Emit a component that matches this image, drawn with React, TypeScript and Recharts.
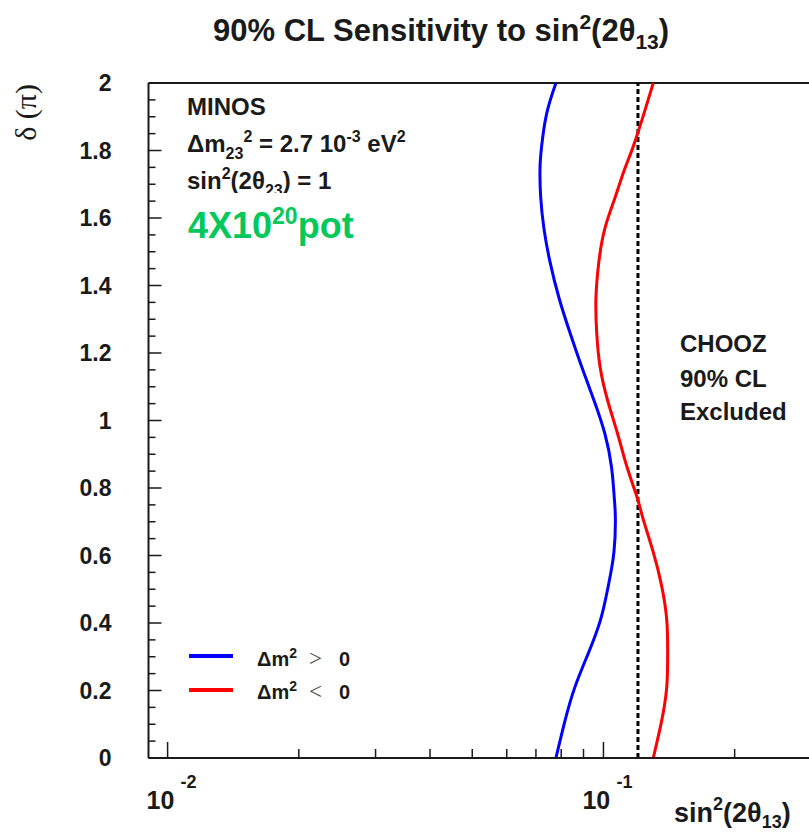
import React from "react"
import { LineChart, Line, XAxis, YAxis, ReferenceLine, Legend } from "recharts"

// delta (units of pi) top to bottom
const DELTA = [2, 1.91, 1.81, 1.74, 1.66, 1.57, 1.47, 1.36, 1.26, 1.16, 1.06, 0.96, 0.86, 0.77, 0.71, 0.61, 0.51, 0.41, 0.31, 0.21, 0.11, 0]
// sin^2(2theta13) sensitivity, dm^2 > 0
const NORMAL = [0.0778, 0.0741, 0.0721, 0.0715, 0.0718, 0.073, 0.0754, 0.0792, 0.0838, 0.0891, 0.0951, 0.1008, 0.1044, 0.1059, 0.1065, 0.1057, 0.1026, 0.0985, 0.0923, 0.086, 0.0816, 0.0778]
// sin^2(2theta13) sensitivity, dm^2 < 0
const INVERTED = [0.1301, 0.1239, 0.1169, 0.1115, 0.1063, 0.1008, 0.0976, 0.0961, 0.0965, 0.0982, 0.1022, 0.1078, 0.1134, 0.1196, 0.1232, 0.1301, 0.136, 0.1397, 0.1404, 0.1397, 0.136, 0.1301]
const CHOOZ_LIMIT = 0.12

const SERIES = [
    { key: "normal", color: "#0000ff", sign: ">" },
    { key: "inverted", color: "#ff0000", sign: "<" },
]

const X_TICKS = [0.01, 0.02, 0.03, 0.04, 0.05, 0.06, 0.07, 0.08, 0.09, 0.1, 0.2, 0.3]
const X_EXPONENTS: Record<string, string> = { "0.01": "-2", "0.1": "-1" }
const Y_TICKS = Array.from({ length: 41 }, (_, i) => Math.round(i * 5) / 100)

const SANS = "'Liberation Sans', Arial, Helvetica, sans-serif"
const SERIF = "'Liberation Serif', 'Times New Roman', serif"
const INK = "#1a1a1a"

const rows = DELTA.map((d, i) => ({ delta: d, normal: NORMAL[i], inverted: INVERTED[i] }))

function XTick(props: any) {
    const { x, payload } = props
    const y = props.y - 1
    const exp = X_EXPONENTS[String(payload.value)]
    return (
        <g>
            <line x1={x} x2={x} y1={y} y2={y - (exp ? 15 : 8)} stroke={INK} strokeWidth={1.5} />
            {exp && (
                <g fontFamily={SANS} fontWeight="bold" fill={INK}>
                    <text x={x - 21} y={y + 52} fontSize={25}>10</text>
                    <text x={x + 13} y={y + 31} fontSize={18}>{exp}</text>
                </g>
            )}
        </g>
    )
}

function YTick(props: any) {
    const { x, y, payload } = props
    const v = payload.value as number
    const major = Math.abs(v * 5 - Math.round(v * 5)) < 1e-6
    return (
        <g>
            <line x1={x} x2={x + (major ? 13 : 7)} y1={y} y2={y} stroke={INK} strokeWidth={1.5} />
            {major && (
                <text x={x - 37} y={y} dy="0.36em" textAnchor="end" fontFamily={SANS} fontWeight="bold" fontSize={23} fill={INK}>
                    {String(Math.round(v * 10) / 10)}
                </text>
            )}
        </g>
    )
}

function renderLegend() {
    return (
        <svg width={200} height={80}>
            {SERIES.map((s, i) => (
                <g key={s.key}>
                    <line x1={9} x2={53} y1={26 + 34 * i} y2={26 + 34 * i} stroke={s.color} strokeWidth={4} />
                    <text x={77} y={36 + 33 * i} fontFamily={SANS} fontWeight="bold" fontSize={20} fill={INK}>
                        Δm<tspan dy={-8} fontSize={14}>2</tspan>
                    </text>
                    <text x={129} y={36 + 33 * i} fontFamily={SERIF} fontSize={23} fill="#444">{s.sign}</text>
                    <text x={159} y={36 + 33 * i} fontFamily={SANS} fontWeight="bold" fontSize={20} fill={INK}>0</text>
                </g>
            ))}
        </svg>
    )
}

export default function App() {
    return (
        <div style={{ position: "absolute", left: 0, top: 0, width: 809, height: 834, overflow: "hidden", background: "#fff" }}>
            <LineChart
                width={830}
                height={834}
                data={rows}
                layout="vertical"
                margin={{ top: 83, right: 18.6, bottom: 75, left: 147.5 }}
            >
                <XAxis
                    type="number"
                    scale="log"
                    domain={[0.00904, 0.3]}
                    allowDataOverflow
                    ticks={X_TICKS}
                    interval={0}
                    height={1}
                    tickSize={0}
                    tickMargin={0}
                    tickLine={false}
                    axisLine={{ stroke: INK, strokeWidth: 2 }}
                    tick={<XTick />}
                />
                <YAxis
                    type="number"
                    dataKey="delta"
                    domain={[0, 2]}
                    reversed
                    allowDataOverflow
                    ticks={Y_TICKS}
                    interval={0}
                    width={1}
                    tickSize={0}
                    tickMargin={0}
                    tickLine={false}
                    axisLine={{ stroke: INK, strokeWidth: 2 }}
                    tick={<YTick />}
                />
                <ReferenceLine y={2} stroke={INK} strokeWidth={2} />
                <ReferenceLine x={CHOOZ_LIMIT} stroke="#000" strokeWidth={3} strokeDasharray="5 3" />
                {SERIES.map(s => (
                    <Line
                        key={s.key}
                        name={s.key}
                        dataKey={s.key}
                        type="natural"
                        stroke={s.color}
                        strokeWidth={3}
                        dot={false}
                        isAnimationActive={false}
                    />
                ))}
                <Legend
                    layout="horizontal"
                    verticalAlign="middle"
                    align="center"
                    content={renderLegend}
                    wrapperStyle={{ left: 180, top: 630, width: 200, height: 80 }}
                />
            </LineChart>

            <svg width={809} height={834} style={{ position: "absolute", left: 0, top: 0, pointerEvents: "none" }}>
                <g fontFamily={SANS} fontWeight="bold" fill={INK} style={{ whiteSpace: "pre" }}>
                    {/* title */}
                    <text x={213} y={41} fontSize={31}>
                        90% CL Sensitivity to sin<tspan dy={-12} fontSize={21}>2</tspan>
                        <tspan dy={12} fontSize={31}>(2θ</tspan>
                        <tspan dy={8} fontSize={21}>13</tspan>
                        <tspan dy={-8} fontSize={31}>)</tspan>
                    </text>

                    {/* MINOS block */}
                    <text x={187} y={115} fontSize={24}>MINOS</text>
                    <text x={187} y={152} fontSize={24}>
                        Δm<tspan dy={7} fontSize={16}>23</tspan>
                        <tspan dy={-17} fontSize={16}>2</tspan>
                        <tspan dy={10} fontSize={24}> = 2.7 10</tspan>
                        <tspan dy={-10} fontSize={16}>-3</tspan>
                        <tspan dy={10} fontSize={24}> eV</tspan>
                        <tspan dy={-10} fontSize={16}>2</tspan>
                    </text>
                    <text x={187} y={189} fontSize={24}>
                        sin<tspan dy={-10} fontSize={16}>2</tspan>
                        <tspan dy={10} fontSize={24}>(2θ</tspan>
                        <tspan dy={7} fontSize={16}>23</tspan>
                        <tspan dy={-7} fontSize={24}>) = 1</tspan>
                    </text>
                    <rect x={168} y={193} width={232} height={70} fill="#fff" />
                    <text x={188} y={238} fontSize={36} fill="#00c85a">
                        4X10<tspan dy={-14} fontSize={23}>20</tspan>
                        <tspan dy={14} fontSize={36}>pot</tspan>
                    </text>

                    {/* CHOOZ block */}
                    <text x={680} y={352} fontSize={24}>CHOOZ</text>
                    <text x={680} y={387} fontSize={24}>90% CL</text>
                    <text x={680} y={420} fontSize={24}>Excluded</text>

                    {/* x axis title */}
                    <text x={674} y={822} fontSize={27}>
                        sin<tspan dy={-12} fontSize={18}>2</tspan>
                        <tspan dy={12} fontSize={27}>(2θ</tspan>
                        <tspan dy={6} fontSize={18}>13</tspan>
                        <tspan dy={-6} fontSize={27}>)</tspan>
                    </text>
                </g>

                {/* y axis title */}
                <text
                    x={36}
                    y={84}
                    textAnchor="end"
                    transform="rotate(-90, 36, 84)"
                    fontFamily={SERIF}
                    fontSize={30}
                    fill={INK}
                >
                    δ (π)
                </text>
            </svg>
        </div>
    )
}
